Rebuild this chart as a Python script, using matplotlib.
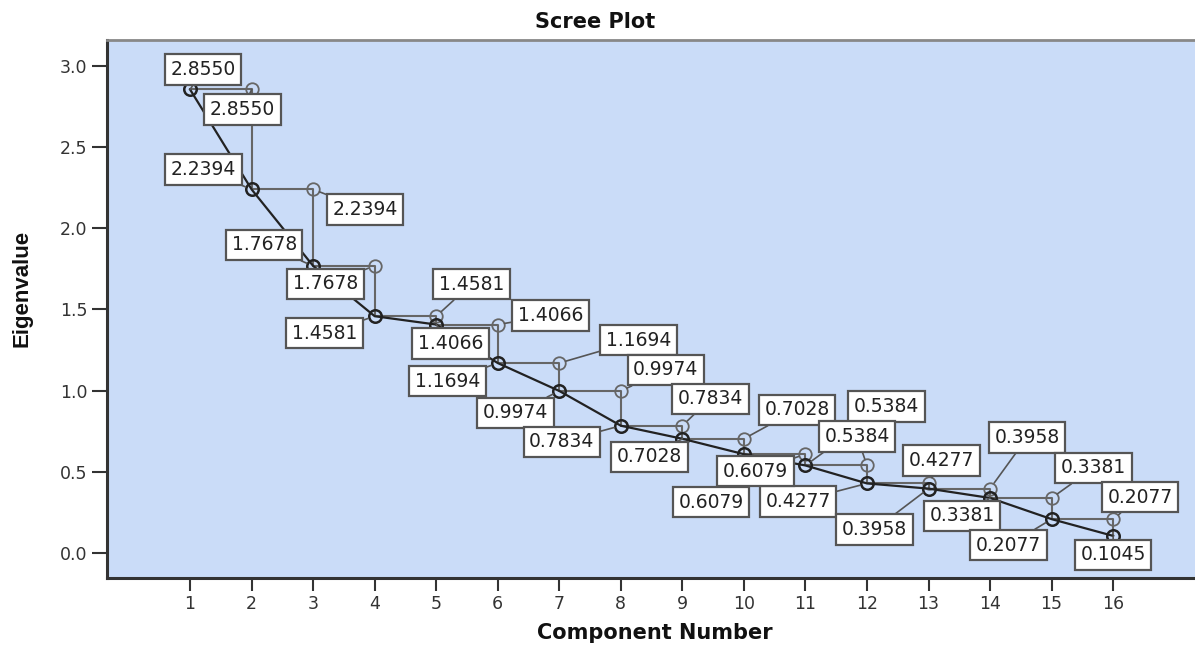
"""Scree plot with value labels (SPSS style)."""

import matplotlib

matplotlib.use("Agg")
import matplotlib.pyplot as plt

components = list(range(1, 17))
eigenvalues = [2.8550, 2.2394, 1.7678, 1.4581, 1.4066, 1.1694, 0.9974, 0.7834,
               0.7028, 0.6079, 0.5384, 0.4277, 0.3958, 0.3381, 0.2077, 0.1045]

# step series: each eigenvalue carried one component to the right
step_x = components[1:]
step_y = eigenvalues[:-1]

# label placement (pixel offsets from the point)
main_offsets = [(13, 20), (-48, 20), (-49, 21), (-50, -17), (14, -19), (-50, -18),
                (-44, -22), (-59, -16), (-33, -18), (-33, -48), (81, 59), (-69, -18),
                (-54, -41), (-28, -18), (-43, -26), (0, -19)]
step_offsets = [(-9, -20), (52, -20), (-49, -18), (35, 32), (53, 9), (79, 23),
                (45, 21), (28, 27), (53, 29), (-50, -17), (-10, 29), (13, 23),
                (37, 51), (42, 30), (27, 22)]

BG = "#cadcf8"
fig = plt.figure(figsize=(11.95, 6.45), dpi=100)
ax = fig.add_axes([107 / 1195, 1 - 578 / 645, 1 - 107 / 1195, (578 - 40) / 645])
ax.set_facecolor(BG)

ax.step(components, eigenvalues, where="post", color="#666666", lw=1.5, zorder=2)
ax.plot(step_x, step_y, "o", ms=9, mfc="none", mec="#666666", mew=1.3, zorder=3)
ax.plot(components, eigenvalues, "-", color="#222222", lw=1.6, zorder=4)
ax.plot(components, eigenvalues, "o", ms=9, mfc="none", mec="#222222", mew=1.8, zorder=5)

box = dict(boxstyle="square,pad=0.3", fc="white", ec="#555555", lw=1.6)
leader = dict(arrowstyle="-", color="#555555", lw=1.2, shrinkA=0, shrinkB=5)


def label(x, y, off):
    ax.annotate(f"{y:.4f}", (x, y), xytext=off, textcoords="offset pixels",
                ha="center", va="center", fontsize=13.5, color="#222222",
                bbox=box, arrowprops=leader, zorder=6)


for x, y, off in zip(components, eigenvalues, main_offsets):
    label(x, y, off)
for x, y, off in zip(step_x, step_y, step_offsets):
    label(x, y, off)

ax.set_xlim(-0.35, 17.33)
ax.set_ylim(-0.155, 3.16)
ax.set_xticks(components)
ax.set_yticks([0.0, 0.5, 1.0, 1.5, 2.0, 2.5, 3.0])
ax.set_yticklabels(["0.0", "0.5", "1.0", "1.5", "2.0", "2.5", "3.0"])
ax.tick_params(axis="y", length=11, width=1.5, color="#333333",
               labelsize=12.5, labelcolor="#333333", pad=3)
ax.tick_params(axis="x", length=9, width=1.5, color="#333333",
               labelsize=12.5, labelcolor="#333333", pad=3)

for side in ("left", "bottom"):
    ax.spines[side].set_linewidth(2.2)
    ax.spines[side].set_color("#333333")
ax.spines["top"].set_linewidth(2)
ax.spines["top"].set_color("#888888")
ax.spines["right"].set_visible(False)

fig.text(595 / 1195, 1 - 22 / 645, "Scree Plot", ha="center", va="center",
         fontsize=15, fontweight="bold", color="#111111")
fig.text(655 / 1195, 1 - 633 / 645, "Component Number", ha="center", va="center",
         fontsize=15, fontweight="bold", color="#111111")
fig.text(22 / 1195, 1 - 288 / 645, "Eigenvalue", ha="center", va="center",
         rotation=90, fontsize=16, fontweight="bold", color="#111111",
         family=["Liberation Sans Narrow", "Liberation Sans", "DejaVu Sans"])

fig.savefig("out.png", dpi=100)
